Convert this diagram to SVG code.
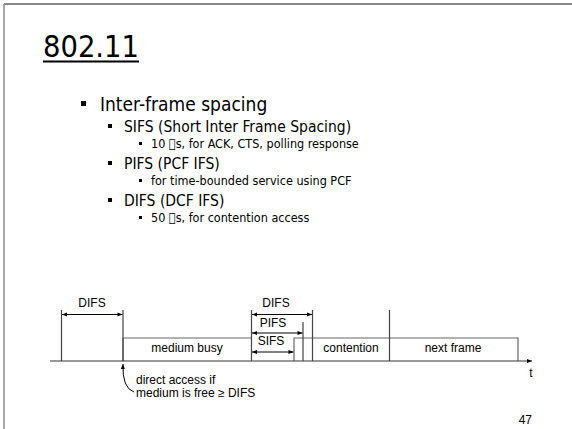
<svg xmlns="http://www.w3.org/2000/svg" width="572" height="429" viewBox="0 0 572 429">
<style>
.t{font-family:"DejaVu Sans Condensed","DejaVu Sans",sans-serif;fill:#000}
.l{font-family:"Liberation Sans",Arial,sans-serif;font-size:12px;fill:#000}
.ln{stroke:#444;stroke-width:1.2;fill:none}
.bx{stroke:#666;stroke-width:1.2;fill:none}
.ar{stroke:#000;stroke-width:1;fill:none;marker-start:url(#ah);marker-end:url(#ah)}
</style>
<defs>
<marker id="ah" viewBox="0 0 10 10" refX="10" refY="5" markerWidth="6" markerHeight="5" markerUnits="userSpaceOnUse" orient="auto-start-reverse">
<path d="M0,1 L10,5 L0,9 z" fill="#000"/>
</marker>
</defs>
<rect width="572" height="429" fill="#fff"/>
<g id="frame">
<line x1="4" y1="4" x2="572" y2="4" stroke="#888" stroke-width="2"/>
<line x1="4" y1="4" x2="4" y2="429" stroke="#888" stroke-width="1.5"/>
</g>
<g id="title">
<text class="t" x="43" y="57" font-size="30.5">802.11</text>
<line x1="43" y1="61.5" x2="139" y2="61.5" stroke="#000" stroke-width="2"/>
</g>
<g id="bullets">
<rect x="81" y="101" width="5" height="5" fill="#000"/>
<text class="t" x="100" y="111" font-size="19">Inter-frame spacing</text>
<rect x="108" y="124" width="4" height="4" fill="#000"/>
<text class="t" x="124" y="132" font-size="15.5">SIFS (Short Inter Frame Spacing)</text>
<rect x="139" y="142" width="3" height="3" fill="#000"/>
<text class="t" x="151" y="148" font-size="12.5">10 &#xF06D;s, for ACK, CTS, polling response</text>
<rect x="108" y="161" width="4" height="4" fill="#000"/>
<text class="t" x="124" y="169" font-size="15.5">PIFS (PCF IFS)</text>
<rect x="139" y="179" width="3" height="3" fill="#000"/>
<text class="t" x="151" y="185" font-size="12.5">for time-bounded service using PCF</text>
<rect x="108" y="198" width="4" height="4" fill="#000"/>
<text class="t" x="124" y="206" font-size="15.5">DIFS (DCF IFS)</text>
<rect x="139" y="216" width="3" height="3" fill="#000"/>
<text class="t" x="151" y="222" font-size="12.5">50 &#xF06D;s, for contention access</text>
</g>
<g id="medium-busy">
<path class="bx" d="M123,361 V338 H251.5"/>
<text class="l" x="187" y="352" text-anchor="middle">medium busy</text>
</g>
<g id="frame-box">
<path class="bx" d="M294,361 V338 H312.5"/>
</g>
<g id="contention">
<path class="bx" d="M312.5,338 H389.5"/>
<text class="l" x="351" y="352" text-anchor="middle">contention</text>
</g>
<g id="next-frame">
<path class="bx" d="M389.5,338 H518 V361"/>
<text class="l" x="453" y="352" text-anchor="middle">next frame</text>
</g>
<g id="connectors">
<line x1="50" y1="361" x2="532" y2="361" stroke="#333" stroke-width="1.2" marker-end="url(#ah)"/>
<line class="ln" x1="61.5" y1="310" x2="61.5" y2="361"/>
<line class="ln" x1="123" y1="310" x2="123" y2="361"/>
<line class="ln" x1="251.5" y1="310" x2="251.5" y2="361"/>
<line class="ln" x1="312.5" y1="310" x2="312.5" y2="361"/>
<line class="ln" x1="303" y1="322" x2="303" y2="361"/>
<line class="ln" x1="389.5" y1="310" x2="389.5" y2="361"/>
<line class="ar" x1="62" y1="314.5" x2="122.5" y2="314.5"/>
<line class="ar" x1="252" y1="314.5" x2="312" y2="314.5"/>
<line class="ar" x1="252" y1="333" x2="302.5" y2="333"/>
<line class="ar" x1="252" y1="352" x2="293.5" y2="352"/>
<path d="M134,392 Q122,388 123,364" stroke="#000" stroke-width="1" fill="none" marker-end="url(#ah)"/>
</g>
<g id="labels">
<text class="l" x="92" y="307" text-anchor="middle">DIFS</text>
<text class="l" x="276" y="307" text-anchor="middle">DIFS</text>
<text class="l" x="273" y="327" text-anchor="middle">PIFS</text>
<text class="l" x="271" y="345" text-anchor="middle">SIFS</text>
<text class="l" x="531" y="377" text-anchor="middle">t</text>
<text class="l" x="136" y="384">direct access if</text>
<text class="l" x="136" y="397">medium is free ≥ DIFS</text>
<text class="l" x="532" y="424" text-anchor="end">47</text>
</g>
</svg>
